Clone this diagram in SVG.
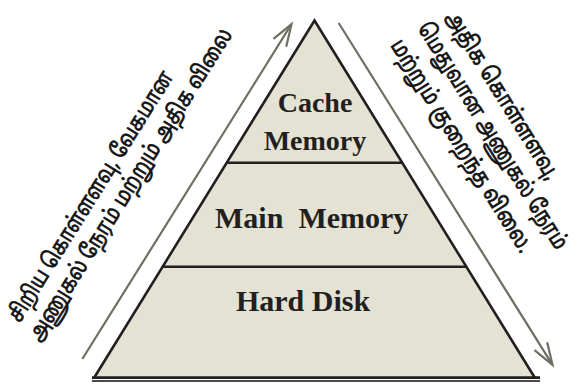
<svg xmlns="http://www.w3.org/2000/svg" width="577" height="385" viewBox="0 0 577 385">
  <defs>
    <marker id="chev" markerUnits="userSpaceOnUse" markerWidth="30" markerHeight="20" viewBox="-25 -10 30 20" refX="0" refY="0" orient="auto">
      <path d="M -22,-7.5 L 0,0 L -22,7.5" fill="none" stroke="#6e6e62" stroke-width="2.2"/>
    </marker>
  </defs>
  <style>
    .lvl { fill: none; stroke: #231f20; stroke-width: 2.6; }
    .lbl { font-family: "Liberation Serif", "Times New Roman", serif; font-weight: bold; fill: #231f20; text-anchor: middle; }
    .ta { font-family: "Noto Sans Tamil", "Lohit Tamil", "Noto Sans", sans-serif; font-size: 17px; fill: #111; stroke: #111; stroke-width: 0.5; }
    .arr { stroke: #6e6e62; stroke-width: 2.2; fill: none; marker-end: url(#chev); }
  </style>
  <rect width="577" height="385" fill="#ffffff"/>

  <g id="pyramid">
    <polygon points="314.5,20.5 94,378 535,378" fill="#e4e2d3" stroke="none"/>
    <line class="lvl" x1="226" y1="162.7" x2="403" y2="162.7"/>
    <line class="lvl" x1="162" y1="266.7" x2="467" y2="266.7"/>
    <polyline points="94,378 314.5,20.5 535,378" fill="none" stroke="#231f20" stroke-width="2.6" stroke-linejoin="miter"/>
    <line x1="92" y1="377.7" x2="540" y2="377.7" stroke="#231f20" stroke-width="2.7"/>
    <line x1="92" y1="381" x2="540" y2="381" stroke="#4a4a4a" stroke-width="2"/>
  </g>

  <g id="cache-memory">
    <text class="lbl" x="315" y="111.7" font-size="28">Cache</text>
    <text class="lbl" x="315" y="149.5" font-size="28">Memory</text>
  </g>
  <g id="main-memory">
    <text class="lbl" x="311.7" y="227.7" font-size="30" xml:space="preserve">Main  Memory</text>
  </g>
  <g id="hard-disk">
    <text class="lbl" x="303" y="310.7" font-size="30">Hard Disk</text>
  </g>

  <g id="connectors">
    <line class="arr" x1="82.3" y1="359" x2="291.5" y2="24.2"/>
    <line class="arr" x1="338.7" y1="23" x2="552.5" y2="364.8"/>
  </g>

  <g id="left-label">
    <text class="ta" transform="translate(19.7,323.5) rotate(-58) scale(1,1.32)" textLength="291" lengthAdjust="spacingAndGlyphs">சிறிய கொள்ளளவு, வேகமான</text>
    <text class="ta" transform="translate(40,343) rotate(-58) scale(1,1.32)" textLength="364" lengthAdjust="spacingAndGlyphs">அணுகல் நேரம் மற்றும் அதிக விலை</text>
  </g>
  <g id="right-label">
    <text class="ta" transform="translate(445,17) rotate(58) scale(1,1.32)" textLength="194" lengthAdjust="spacingAndGlyphs">அதிக கொள்ளளவு,</text>
    <text class="ta" transform="translate(417,28) rotate(58) scale(1,1.32)" textLength="263" lengthAdjust="spacingAndGlyphs">மெதுவான அணுகல் நேரம்</text>
    <text class="ta" transform="translate(390,45) rotate(58) scale(1,1.32)" textLength="247" lengthAdjust="spacingAndGlyphs">மற்றும் குறைந்த விலை.</text>
  </g>
</svg>
